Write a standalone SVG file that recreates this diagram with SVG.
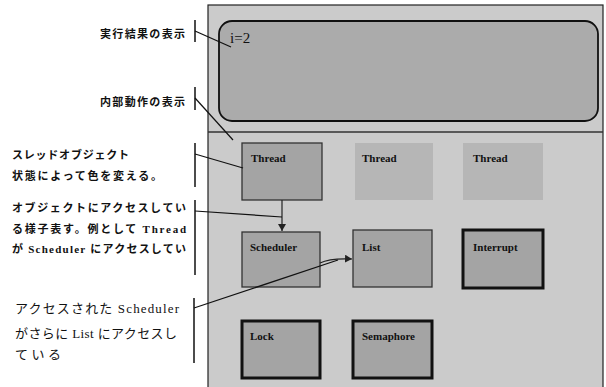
<svg xmlns="http://www.w3.org/2000/svg" width="606" height="387" viewBox="0 0 606 387">
<style>
.jp{font-family:"Liberation Serif","Noto Sans CJK JP",serif;font-size:11px;font-weight:bold;fill:#111}
.jp2{font-family:"Liberation Serif","Noto Sans CJK JP",serif;font-size:13px;fill:#111}
.lbl{font-family:"Liberation Serif",serif;font-size:11px;font-weight:bold;fill:#111}
.bar{stroke:#111;stroke-width:1.5;fill:none}
.call{stroke:#111;stroke-width:1.2;fill:none}
.box{fill:#a4a4a4;stroke:#333;stroke-width:1.3}
.faint{fill:#b6b6b6;stroke:none}
.thick{fill:#a4a4a4;stroke:#111;stroke-width:3}
.conn{stroke:#222;stroke-width:1.2;fill:none}
</style>
<defs>
<marker id="ah" markerWidth="8" markerHeight="8" refX="7" refY="4" orient="auto" markerUnits="userSpaceOnUse">
<path d="M0,0 L7,4 L0,8 z" fill="#222"/>
</marker>
</defs>
<rect width="606" height="387" fill="#fff"/>
<g id="panel">
<rect x="208" y="5" width="395" height="385" fill="#cbcbcb" stroke="#222" stroke-width="1.2"/>
<line x1="208" y1="132" x2="603" y2="132" stroke="#333" stroke-width="1.5"/>
</g>
<g id="result">
<rect x="219" y="21" width="379" height="100" rx="13" ry="13" fill="#ababab" stroke="#111" stroke-width="1.8"/>
<text x="230" y="43" style="font-family:'Liberation Serif',serif;font-size:15px;fill:#111">i=2</text>
</g>
<g id="thread1"><rect class="box" x="242" y="143" width="80" height="57"/><text class="lbl" x="251" y="162">Thread</text></g>
<g id="thread2"><rect class="faint" x="355" y="143" width="78" height="57"/><text class="lbl" x="362" y="162">Thread</text></g>
<g id="thread3"><rect class="faint" x="463" y="143" width="80" height="57"/><text class="lbl" x="473" y="162">Thread</text></g>
<g id="scheduler"><rect class="box" x="242" y="232" width="78" height="55"/><text class="lbl" x="250" y="251">Scheduler</text></g>
<g id="list"><rect class="box" x="353" y="230" width="79" height="57"/><text class="lbl" x="362" y="251">List</text></g>
<g id="interrupt"><rect class="thick" x="463" y="230" width="80" height="58"/><text class="lbl" x="473" y="251">Interrupt</text></g>
<g id="lock"><rect class="thick" x="242" y="321" width="78" height="57"/><text class="lbl" x="250" y="340">Lock</text></g>
<g id="semaphore"><rect class="thick" x="353" y="321" width="79" height="57"/><text class="lbl" x="362" y="340">Semaphore</text></g>
<g id="connectors">
<line class="conn" x1="282" y1="200" x2="282" y2="231" marker-end="url(#ah)"/>
<path class="conn" d="M320,263 Q330,258 352,259" marker-end="url(#ah)"/>
</g>
<g id="callouts">
<line class="bar" x1="195" y1="20" x2="195" y2="42"/>
<line class="call" x1="195" y1="31" x2="231" y2="47"/>
<line class="bar" x1="195" y1="87" x2="195" y2="110"/>
<line class="call" x1="195" y1="98" x2="233" y2="140"/>
<line class="bar" x1="195" y1="143" x2="195" y2="187"/>
<line class="call" x1="195" y1="154" x2="243" y2="168"/>
<line class="bar" x1="195" y1="200" x2="195" y2="275"/>
<line class="call" x1="195" y1="211" x2="282" y2="217"/>
<line class="bar" x1="194" y1="298" x2="194" y2="363"/>
<line class="call" x1="194" y1="308" x2="338" y2="260"/>
</g>
<g id="notes">
<text class="jp" x="100" y="38" textLength="85" lengthAdjust="spacing">実行結果の表示</text>
<text class="jp" x="100" y="106" textLength="85" lengthAdjust="spacing">内部動作の表示</text>
<text class="jp" x="12" y="159" textLength="117" lengthAdjust="spacing">スレッドオブジェクト</text>
<text class="jp" x="12" y="180" textLength="150" lengthAdjust="spacing">状態によって色を変える。</text>
<text class="jp" x="12" y="212" textLength="174" lengthAdjust="spacing">オブジェクトにアクセスしてい</text>
<text class="jp" x="12" y="233" textLength="174" lengthAdjust="spacing">る様子表す。例として Thread</text>
<text class="jp" x="12" y="253" textLength="174" lengthAdjust="spacing">が Scheduler にアクセスしてい</text>
<text class="jp2" x="15" y="313" textLength="164" lengthAdjust="spacing">アクセスされた Scheduler</text>
<text class="jp2" x="15" y="338" textLength="162" lengthAdjust="spacing">がさらに List にアクセスし</text>
<text class="jp2" x="15" y="359" textLength="46" lengthAdjust="spacing">ている</text>
</g>
</svg>
